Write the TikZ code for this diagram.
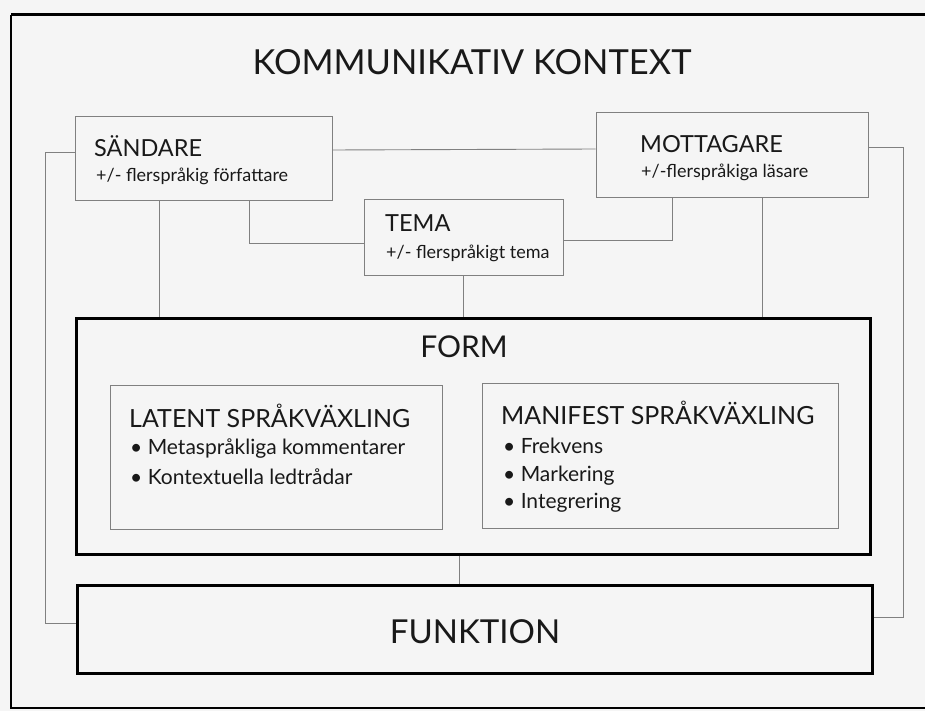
\documentclass[tikz,border=0pt]{standalone}
\usepackage{fontspec}
\setmainfont{Lato}
\usetikzlibrary{positioning}

\tikzset{
  thinbox/.style={draw=black!50, line width=1pt},
  thickbox/.style={draw=black, line width=3pt},
  link/.style={draw=black!50, line width=0.9pt},
  lbl/.style={anchor=base west, inner sep=0pt, text=black!90},
  bigtxt/.style={anchor=base, inner sep=0pt, text=black!90, font=\fontsize{34.5}{38}\selectfont},
  headtxt/.style={lbl, font=\fontsize{23.5}{27}\selectfont},
  subtxt/.style={lbl, font=\fontsize{18}{21}\selectfont},
  itemtxt/.style={lbl, font=\fontsize{21}{24}\selectfont},
}

\begin{document}
\begin{tikzpicture}[x=1pt, y=-1pt]
  \useasboundingbox[fill=black!4] (0,0) rectangle (925,711);

  % outer frame
  \draw[line width=3pt] (925,15) -- (11,15);
  \draw[line width=1.6pt] (11,15) -- (11,708) -- (925,708);

  \node[bigtxt] (title) at (472,75) {KOMMUNIKATIV KONTEXT};

  % context boxes
  \node[thinbox, minimum width=257pt, minimum height=84pt] (snd) at (203.5,159) {};
  \node[headtxt] (sndhead) at (94,157) {SÄNDARE};
  \node[subtxt] (sndsub) at (96,182) {+/- flerspråkig författare};

  \node[thinbox, minimum width=272pt, minimum height=85pt] (mot) at (732,155.5) {};
  \node[headtxt] (mothead) at (640,153) {MOTTAGARE};
  \node[subtxt] (motsub) at (641,178) {+/-flerspråkiga läsare};

  \node[thinbox, minimum width=199pt, minimum height=75pt] (tema) at (463.5,237.5) {};
  \node[headtxt] (temahead) at (385,231) {TEMA};
  \node[subtxt] (temasub) at (386,258) {+/- flerspråkigt tema};

  % form
  \node[thickbox, minimum width=794pt, minimum height=236pt] (form) at (473.5,436) {};
  \node[bigtxt, font=\fontsize{30}{34}\selectfont] (formhead) at (464,357) {FORM};

  \node[thinbox, minimum width=332pt, minimum height=144pt] (lat) at (276,457) {};
  \node[headtxt, font=\fontsize{25}{29}\selectfont] (lathead) at (129,427) {LATENT SPRÅKVÄXLING};
  \node[itemtxt] (lat1) at (130,454) {• Metaspråkliga kommentarer};
  \node[itemtxt] (lat2) at (130,484) {• Kontextuella ledtrådar};

  \node[thinbox, minimum width=356pt, minimum height=145pt] (man) at (660,455.5) {};
  \node[headtxt, font=\fontsize{25}{29}\selectfont] (manhead) at (501,424) {MANIFEST SPRÅKVÄXLING};
  \node[itemtxt] (man1) at (503,453) {• Frekvens};
  \node[itemtxt] (man2) at (503,481) {• Markering};
  \node[itemtxt] (man3) at (503,508) {• Integrering};

  % funktion
  \node[thickbox, minimum width=795pt, minimum height=88pt] (funk) at (474.5,629) {};
  \node[bigtxt, font=\fontsize{33}{37}\selectfont] (funkhead) at (475,643) {FUNKTION};

  % connectors
  \coordinate (sndleg) at ([xshift=-44.5pt]snd.south);
  \coordinate (motleg) at ([xshift=30pt]mot.south);
  \coordinate (formleg) at ([xshift=-14.5pt]form.south);
  \draw[link] ([yshift=9pt]snd.east) -- ([yshift=6.5pt]mot.west);
  \draw[link] ([xshift=45.5pt]snd.south) |- ([yshift=-5.5pt]tema.west);
  \draw[link] ([yshift=-2.5pt]tema.east) -| ([xshift=-60pt]mot.south);
  \draw[link] (sndleg) -- (sndleg |- form.north);
  \draw[link] (tema.south) -- (tema.south |- form.north);
  \draw[link] (motleg) -- (motleg |- form.north);
  \draw[link] (formleg) -- (formleg |- funk.north);
  \draw[link] ([yshift=7pt]snd.west) -- ++(-29,0) |- ([yshift=6pt]funk.west);
  \draw[link] ([yshift=8.5pt]mot.east) -- ++(35,0) |- ([yshift=12pt]funk.east);
\end{tikzpicture}
\end{document}
